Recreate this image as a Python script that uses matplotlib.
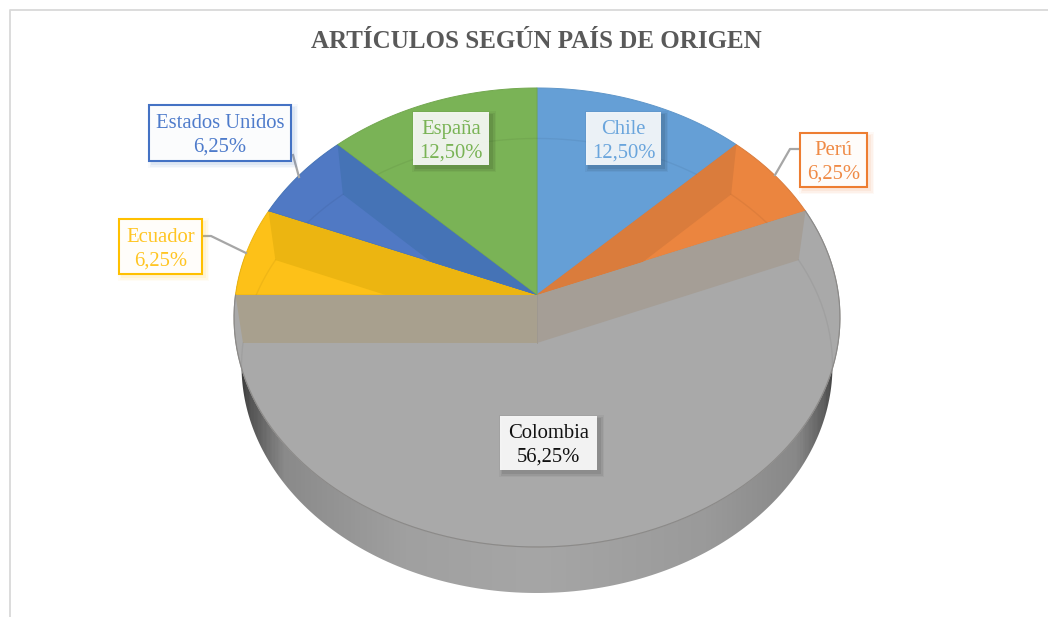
import numpy as np
import matplotlib
import matplotlib.pyplot as plt
from matplotlib.patches import Polygon, Rectangle
from matplotlib.colors import LinearSegmentedColormap

matplotlib.use('Agg')

title = "ARTÍCULOS SEGÚN PAÍS DE ORIGEN"
countries = ["Chile", "Perú", "Colombia", "Ecuador", "Estados Unidos", "España"]
shares = [12.5, 6.25, 56.25, 6.25, 6.25, 12.5]

top_colors = ["#659fd6", "#eb853f", "#a9a9a9", "#fdc118", "#5079c4", "#7ab356"]
wall_colors = ["#5f96c9", "#da7c3c", "#a59e96", "#ecb511", "#4573b6", "#73a850"]
text_colors = ["#6aa5dc", "#ef8a45", "#111111", "#ffc523", "#4e7bcb", "#79b355"]
border_colors = [None, "#ed7d31", None, "#ffc000", "#4472c4", None]

# left, top, right, bottom of the label boxes, in pixels
boxes = [(586, 112, 661, 165), (800, 133, 867, 187), (500, 416, 597, 470),
         (119, 219, 202, 274), (149, 105, 291, 161), (413, 112, 489, 165)]
leaders = [None, [(799, 149), (790, 149), (775, 175)], None,
           [(203, 236), (211, 236), (246, 253)], [(293, 155), (299, 177)], None]

FONT = "Liberation Serif"
FS = 14.9


def project(theta, cx, cy, a, b, k):
    # theta in degrees, clockwise from the top, perspective on the disc
    t = np.radians(theta)
    u, v = np.sin(t), np.cos(t)
    d = 1 + k * v
    return np.column_stack([cx + a * u / d, cy - b * v / d])


def top_rim(theta):
    return project(theta, 537, 295, 301.5, 227.3, 0.098)


def floor_rim(theta):
    return project(theta, 537, 343, 294, 225, 0.1)


TOP_C = (537, 295)
FLOOR_C = (537, 343)


def arc(func, a, b):
    return func(np.linspace(a, b, 200))


fig = plt.figure(figsize=(10.48, 6.17), dpi=100)
ax = fig.add_axes([0, 0, 1, 1])
ax.set_xlim(0, 1048)
ax.set_ylim(617, 0)
ax.axis('off')

# chart frame
ax.plot([9.5, 9.5, 1048], [617, 9.5, 9.5], color="#d9d9d9", lw=1.3, zorder=0)

# outer side of the disc, horizontal shading
stops = [(0.0, "#2e2e2e"), (0.025, "#555555"), (0.08, "#8a8a8a"), (0.28, "#a0a0a0"),
         (0.5, "#a6a6a6"), (0.78, "#9a9a9a"), (0.93, "#888888"), (0.975, "#5e5e5e"), (1.0, "#333333")]
side_cmap = LinearSegmentedColormap.from_list("side", stops)
side_path = np.vstack([arc(top_rim, 80, 280), arc(floor_rim, 280, 80)])
side = Polygon(side_path, closed=True, fc="none", ec="none", zorder=1)
ax.add_patch(side)
im = ax.imshow(np.linspace(0, 1, 400).reshape(1, -1), cmap=side_cmap, extent=(234, 841, 617, 60),
               aspect='auto', zorder=1)
im.set_clip_path(side)
ax.set_xlim(0, 1048)
ax.set_ylim(617, 0)

# top surface, slice by slice
starts = np.cumsum([0] + shares[:-1]) * 3.6
ends = np.cumsum(shares) * 3.6
slice_patches = []
for i, name in enumerate(countries):
    pts = np.vstack([[TOP_C], arc(top_rim, starts[i], ends[i])])
    p = Polygon(pts, closed=True, fc=top_colors[i], ec=wall_colors[i], lw=0.7, zorder=2)
    ax.add_patch(p)
    slice_patches.append(p)

# inner walls showing through the translucent slices
wall_angles = {1: [starts[1]], 2: [starts[2], ends[2]], 3: [ends[3]], 4: [ends[4]]}
for i, angles in wall_angles.items():
    for ang in angles:
        wall = np.vstack([[TOP_C], top_rim(np.array([ang])), floor_rim(np.array([ang])), [FLOOR_C]])
        color = wall_colors[i]
        if i == 2 and ang == ends[i]:
            color = "#a8a08e"
        w = Polygon(wall, closed=True, fc=color, ec="none", zorder=3)
        ax.add_patch(w)
        w.set_clip_path(slice_patches[i])

# seam in the middle of the Colombia walls
ax.plot([537, 537], [295, 343], color="#9d978f", lw=0.6, zorder=4)

# floor rim, faint through the surface
for i in range(len(countries)):
    line, = ax.plot(*arc(floor_rim, starts[i], ends[i]).T, color="#000000", alpha=0.05, lw=1, zorder=4)
    line.set_clip_path(slice_patches[i])

# rim outline of the front
ax.plot(*arc(top_rim, 67.5, 270).T, color="#8a8a8a", lw=0.8, zorder=4)

# labels
for i, name in enumerate(countries):
    if leaders[i] is not None:
        xs, ys = zip(*leaders[i])
        ax.plot(xs, ys, color="#a6a6a6", lw=1.6, zorder=5)
    x0, y0, x1, y1 = boxes[i]
    # soft shadow under the box
    for g, al in zip([8, 5, 2], [0.04, 0.06, 0.08]):
        ax.add_patch(Rectangle((x0 + 3 - g / 2, y0 + 3 - g / 2), x1 - x0 + g, y1 - y0 + g,
                               fc="#000000" if border_colors[i] is None else border_colors[i],
                               ec="none", alpha=al, zorder=5))
    ax.add_patch(Rectangle((x0, y0), x1 - x0, y1 - y0, fc="#ffffff", alpha=0.89, ec="none", zorder=6))
    if border_colors[i] is not None:
        ax.add_patch(Rectangle((x0, y0), x1 - x0, y1 - y0, fc="none", ec=border_colors[i], lw=1.5, zorder=6))
    ax.text((x0 + x1) / 2, (y0 + y1) / 2 + 2.5, "%s\n%s%%" % (name, ("%.2f" % shares[i]).replace(".", ",")),
            ha="center", va="center", family=FONT, fontsize=FS, color=text_colors[i],
            linespacing=1.3, zorder=7)

ax.text(536, 42, title, ha="center", va="center", family=FONT, fontsize=18,
        fontweight="bold", color="#595959", zorder=7)

fig.savefig("out.png", dpi=100)
